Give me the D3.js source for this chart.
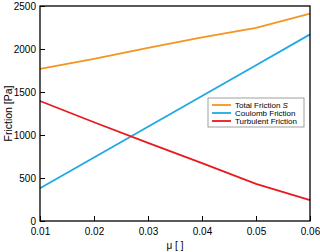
<!DOCTYPE html>
<html>
<head>
<meta charset="utf-8">
<script src="https://cdn.jsdelivr.net/npm/d3@7"></script>
<style>
 body { margin: 0; background: #fff; }
 text { font-family: "Liberation Sans", Arial, sans-serif; }
</style>
</head>
<body>
<script>
 // *** values
 var mu = [0.01, 0.02, 0.03, 0.04, 0.05, 0.06];
 var totalFriction = [1770, 1885, 2012, 2135, 2245, 2410];
 var coulombFriction = [380, 738, 1096, 1454, 1812, 2170];
 var turbulentFriction = [1395, 1148, 908, 672, 432, 242];
 var xTicks = [0.01, 0.02, 0.03, 0.04, 0.05, 0.06];
 var yTicks = [0, 500, 1000, 1500, 2000, 2500];

 var series = [
  { name: "Total Friction ", italic: "S", values: totalFriction, color: "#f5951f" },
  { name: "Coulomb Friction", italic: "", values: coulombFriction, color: "#1ea9e3" },
  { name: "Turbulent Friction", italic: "", values: turbulentFriction, color: "#e8191f" }
 ];

 var width = 320
 var height = 252
 // note: "top" is taken by window.top, so use plot* names
 var plotLeft = 40, plotRight = 310, plotTop = 6, plotBottom = 221;

 var svg = d3.select('body')
  .append('svg')
  .attr('width', width)
  .attr('height', height);

 var xScale = d3.scaleLinear().domain([0.01, 0.06]).range([plotLeft, plotRight]);
 var yScale = d3.scaleLinear().domain([0, 2500]).range([plotBottom, plotTop]);

 // lines
 var line = d3.line()
  .x(function(d, i) { return xScale(mu[i]) })
  .y(function(d) { return yScale(d) });

 series.forEach(function(s) {
  svg.append('path')
   .attr('d', line(s.values))
   .attr('fill', 'none')
   .attr('stroke', s.color)
   .attr('stroke-width', 1.8);
 });

 // *** axes with inward ticks
 var xAxis = d3.axisBottom(xScale).tickValues(xTicks).tickSize(-5).tickPadding(7)
  .tickFormat(d3.format(".2f"));
 var yAxis = d3.axisLeft(yScale).tickValues(yTicks).tickSize(-5).tickPadding(4)
  .tickFormat(d3.format("d"));

 var gx = svg.append("g")
  .attr("transform", "translate(0," + plotBottom + ")")
  .call(xAxis);
 var gy = svg.append("g")
  .attr("transform", "translate(" + plotLeft + ",0)")
  .call(yAxis);

 [gx, gy].forEach(function(g) {
  g.select(".domain").remove();
  g.selectAll("line").attr("stroke", "#000");
  g.selectAll("text").attr("font-size", 10).attr("fill", "#000")
   .style("font-family", "'Liberation Sans', Arial, sans-serif");
 });

 // frame
 svg.append("rect")
  .attr("x", plotLeft).attr("y", plotTop)
  .attr("width", plotRight - plotLeft).attr("height", plotBottom - plotTop)
  .attr("fill", "none")
  .attr("stroke", "#000")
  .attr("stroke-width", 1.3);

 // axis labels
 svg.append("text")
  .attr("x", (plotLeft + plotRight) / 2).attr("y", 249)
  .attr("text-anchor", "middle")
  .attr("font-size", 10)
  .text("μ [ ]");

 svg.append("text")
  .attr("transform", "translate(12," + (plotTop + plotBottom) / 2 + ") rotate(-90)")
  .attr("text-anchor", "middle")
  .attr("font-size", 10.5)
  .text("Friction [Pa]");

 // legend
 var legend = svg.append("g").attr("transform", "translate(208,98)");
 legend.append("rect")
  .attr("width", 96).attr("height", 29)
  .attr("fill", "#fff")
  .attr("stroke", "#888")
  .attr("stroke-width", 0.8);

 series.forEach(function(s, i) {
  var y = 7 + i * 8;
  legend.append("line")
   .attr("x1", 4).attr("x2", 23)
   .attr("y1", y).attr("y2", y)
   .attr("stroke", s.color)
   .attr("stroke-width", 1.8);
  var t = legend.append("text")
   .attr("x", 27).attr("y", y + 3)
   .attr("font-size", 8)
   .text(s.name);
  if (s.italic) {
   t.append("tspan").attr("font-style", "italic").text(s.italic);
  }
 });
</script>
</body>
</html>
